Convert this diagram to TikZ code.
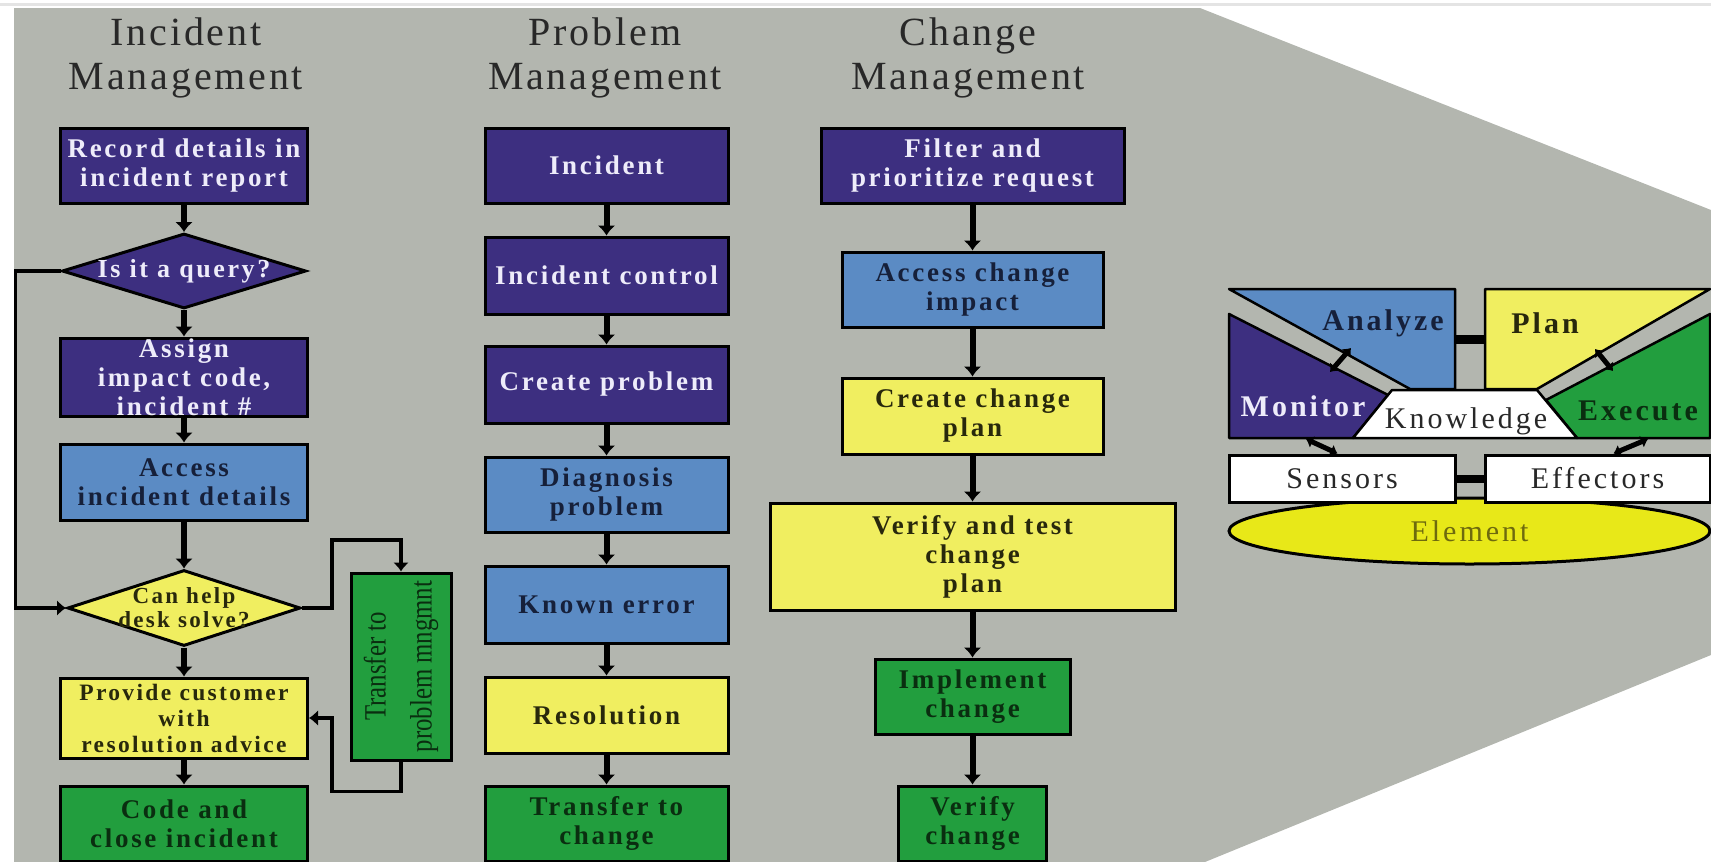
\documentclass[tikz,border=0pt]{standalone}
\usepackage{fontspec}
\setmainfont{Liberation Serif}
\newfontfamily\boxfont{Liberation Serif}[LetterSpace=10]
\newfontfamily\headfont{Liberation Serif}[LetterSpace=7]
\usetikzlibrary{shapes.geometric, arrows.meta, positioning, calc}

\begin{document}
\begin{tikzpicture}[x=1pt, y=-1pt,
    stepbox/.style={draw, line width=3pt, align=center, inner sep=0pt,
        font=\boxfont\bfseries\fontsize{27}{29}\selectfont},
    navybox/.style={stepbox, fill=itil_navy, text=navy_ink},
    bluebox/.style={stepbox, fill=itil_blue, text=blue_ink},
    yellowbox/.style={stepbox, fill=itil_yellow, text=olive_ink},
    greenbox/.style={stepbox, fill=itil_green, text=green_ink},
    decision/.style={diamond, draw, line width=3pt, inner sep=0pt},
    qtext/.style={align=center, font=\boxfont\bfseries\fontsize{26}{26}\selectfont},
    sidetext/.style={rotate=90, xscale=0.8, align=center, text=green_ink,
        font=\fontsize{31}{46}\selectfont},
    flow/.style={line width=6pt, -{Latex[length=10pt,width=18pt]}},
    loopline/.style={line width=3.5pt, -{Latex[length=9pt,width=16pt]}},
    heading/.style={align=center, text=head_ink,
        font=\headfont\fontsize{40}{44}\selectfont},
    mapetext/.style={font=\boxfont\bfseries\fontsize{30}{32}\selectfont},
    plaintext/.style={font=\boxfont\fontsize{30}{32}\selectfont, text=head_ink},
    mapepart/.style={draw=black, line width=2.5pt, line join=round},
    mapearrow/.style={line width=5pt, {Latex[length=7pt,width=13pt]}-{Latex[length=7pt,width=13pt]}},
]

    % Define colors
    \definecolor{itil_navy}{RGB}{61, 47, 128}
    \definecolor{itil_blue}{RGB}{91, 139, 196}
    \definecolor{itil_yellow}{RGB}{240, 238, 96}
    \definecolor{itil_green}{RGB}{34, 158, 62}
    \definecolor{itil_element}{RGB}{232, 232, 24}
    \definecolor{panel_gray}{RGB}{179, 182, 175}
    \definecolor{topline_gray}{RGB}{228, 228, 228}
    \definecolor{navy_ink}{RGB}{238, 236, 250}
    \definecolor{blue_ink}{RGB}{22, 32, 58}
    \definecolor{olive_ink}{RGB}{40, 40, 12}
    \definecolor{green_ink}{RGB}{10, 46, 16}
    \definecolor{head_ink}{RGB}{40, 40, 40}
    \definecolor{element_ink}{RGB}{110, 106, 14}

    \useasboundingbox (0,0) rectangle (1711,862);

    % Background panel
    \draw[line width=3pt, topline_gray] (0,4.5) -- (1711,4.5);
    \fill[panel_gray] (14,8) -- (1200,8) -- (1711,210) -- (1711,655)
        -- (1205,862) -- (14,862) -- cycle;

    % Column headings
    \node[heading] (inc_head) at (186,58) {Incident\\Management};
    \node[heading] (prob_head) at (605,58) {Problem\\Management};
    \node[heading] (chg_head) at (968,58) {Change\\Management};

    % Incident management
    \node[navybox, minimum width=247pt, minimum height=75pt] (record) at (184,165.5) {Record details in\\incident report};
    \node[decision, fill=itil_navy, minimum width=244pt, minimum height=75pt,
        label={[qtext, text=navy_ink]center:Is it a query?}] (query) at (184,271) {};
    \node[navybox, minimum width=247pt, minimum height=78pt] (assign) at (184,377) {Assign\\impact code,\\incident \#};
    \node[bluebox, minimum width=247pt, minimum height=76pt] (access) at (184,482) {Access\\incident details};
    \node[decision, fill=itil_yellow, minimum width=233pt, minimum height=76pt,
        label={[qtext, text=olive_ink, font=\boxfont\bfseries\fontsize{23}{24}\selectfont]center:{Can help\\desk solve?}}] (helpdesk) at (184,608) {};
    \node[yellowbox, minimum width=247pt, minimum height=80pt,
        font=\boxfont\bfseries\fontsize{23.5}{26}\selectfont] (provide) at (184,718) {Provide customer\\with\\resolution advice};
    \node[greenbox, minimum width=247pt, minimum height=75pt] (closeinc) at (184,823.5) {Code and\\close incident};
    \node[greenbox, minimum width=100pt, minimum height=187pt,
        label={[sidetext]center:{Transfer to\\problem mngmnt}}] (toproblem) at (401,666.5) {};

    \draw[flow] (record) -- (query);
    \draw[flow] (query) -- (assign);
    \draw[flow] (assign) -- (access);
    \draw[flow] (access) -- (helpdesk);
    \draw[flow] (helpdesk) -- (provide);
    \draw[flow] (provide) -- (closeinc);
    \draw[loopline] (query.west) -- ++(-45,0) |- (helpdesk.west);
    \draw[loopline] (helpdesk.east) -- ++(30,0) -- ++(0,-68) -| (toproblem.north);
    \draw[loopline] (toproblem.south) -- ++(0,30) -| ($(provide.east)+(23,0)$) -- (provide.east);

    % Problem management
    \node[navybox, minimum width=243pt, minimum height=75pt] (p_incident) at (606.5,165.5) {Incident};
    \node[navybox, minimum width=243pt, minimum height=77pt] (p_control) at (606.5,275.5) {Incident control};
    \node[navybox, minimum width=243pt, minimum height=77pt] (p_create) at (606.5,384.5) {Create problem};
    \node[bluebox, minimum width=243pt, minimum height=75pt] (p_diagnose) at (606.5,494.5) {Diagnosis\\problem};
    \node[bluebox, minimum width=243pt, minimum height=77pt] (p_known) at (606.5,604.5) {Known error};
    \node[yellowbox, minimum width=243pt, minimum height=76pt] (p_resolve) at (606.5,715) {Resolution};
    \node[greenbox, minimum width=243pt, minimum height=75pt] (p_transfer) at (606.5,823.5) {Transfer to\\change};

    \draw[flow] (p_incident) -- (p_control);
    \draw[flow] (p_control) -- (p_create);
    \draw[flow] (p_create) -- (p_diagnose);
    \draw[flow] (p_diagnose) -- (p_known);
    \draw[flow] (p_known) -- (p_resolve);
    \draw[flow] (p_resolve) -- (p_transfer);

    % Change management
    \node[navybox, minimum width=303pt, minimum height=75pt] (c_filter) at (972.5,165.5) {Filter and\\prioritize request};
    \node[bluebox, minimum width=261pt, minimum height=75pt] (c_impact) at (972.5,289.5) {Access change\\impact};
    \node[yellowbox, minimum width=261pt, minimum height=76pt] (c_plan) at (972.5,416) {Create change\\plan};
    \node[yellowbox, minimum width=405pt, minimum height=107pt] (c_test) at (972.5,556.5) {Verify and test\\change\\plan};
    \node[greenbox, minimum width=195pt, minimum height=75pt] (c_implement) at (972.5,696.5) {Implement\\change};
    \node[greenbox, minimum width=148pt, minimum height=75pt] (c_verify) at (972.5,823.5) {Verify\\change};

    \draw[flow] (c_filter) -- (c_impact);
    \draw[flow] (c_impact) -- (c_plan);
    \draw[flow] (c_plan) -- (c_test);
    \draw[flow] (c_test) -- (c_implement);
    \draw[flow] (c_implement) -- (c_verify);

    % Autonomic element (MAPE-K)
    \node[ellipse, draw, line width=3pt, fill=itil_element, minimum width=481pt, minimum height=66pt,
        font=\boxfont\fontsize{30}{32}\selectfont, text=element_ink] (element) at (1469.5,531) {Element};
    \node[stepbox, fill=white, minimum width=226pt, minimum height=47pt, plaintext] (sensors) at (1342,478.5) {Sensors};
    \node[stepbox, fill=white, minimum width=225pt, minimum height=47pt, plaintext] (effectors) at (1597.5,478.5) {Effectors};
    \draw[line width=8pt] (sensors) -- (effectors);

    \filldraw[mapepart, fill=itil_blue] (1229,289) -- (1455,289) -- (1455,389) -- (1410,389) -- cycle;
    \filldraw[mapepart, fill=itil_navy] (1229,314) -- (1388,395) -- (1353,438) -- (1229,438) -- cycle;
    \filldraw[mapepart, fill=itil_yellow] (1485,289) -- (1710,289) -- (1537,389) -- (1485,389) -- cycle;
    \filldraw[mapepart, fill=itil_green] (1710,314) -- (1710,438) -- (1577,438) -- (1546,400) -- cycle;
    \filldraw[mapepart, fill=white] (1392,390) -- (1537,390) -- (1577,438) -- (1353,438) -- cycle;

    \node[mapetext, text=blue_ink] (analyze) at (1383,323) {Analyze};
    \node[mapetext, text=olive_ink] (plan) at (1545,323) {Plan};
    \node[mapetext, text=navy_ink] (monitor) at (1303,406) {Monitor};
    \node[mapetext, text=green_ink] (execute) at (1638,411) {Execute};
    \node[plaintext] (knowledge) at (1466,421) {Knowledge};

    \coordinate (analyze_side) at (1455,339);
    \coordinate (plan_side) at (1485,339);
    \draw[line width=9pt] (analyze_side) -- (plan_side);

    \coordinate (monitor_edge) at (1330,372);
    \coordinate (analyze_edge) at (1351,348);
    \draw[mapearrow] (monitor_edge) -- (analyze_edge);
    \coordinate (plan_edge) at (1595,349);
    \coordinate (execute_edge) at (1613,371);
    \draw[mapearrow] (plan_edge) -- (execute_edge);

    \coordinate (monitor_foot) at (1306,439);
    \draw[mapearrow] (monitor_foot) -- ($(sensors.north west)+(110,0)$);
    \coordinate (execute_foot) at (1648,439);
    \draw[mapearrow] (execute_foot) -- ($(effectors.north west)+(130,0)$);

\end{tikzpicture}
\end{document}
